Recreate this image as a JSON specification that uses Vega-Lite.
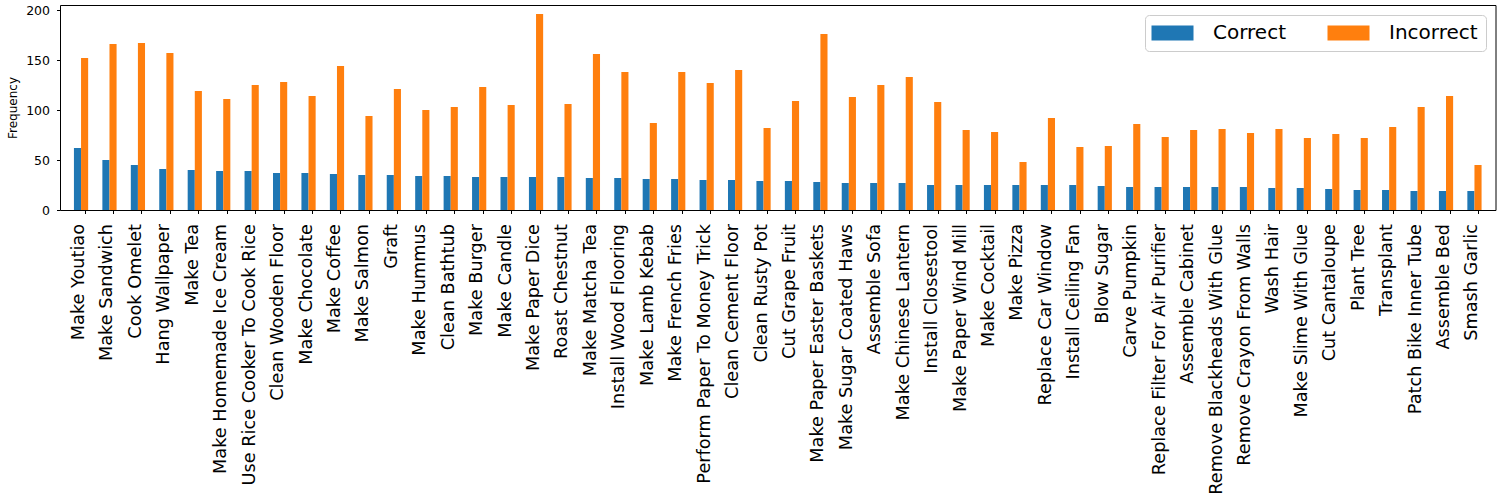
{
  "$schema": "https://vega.github.io/schema/vega-lite/v6.json",
  "width": 1435.5,
  "height": 205,
  "autosize": {"type": "none"},
  "padding": {"left": 60, "top": 5, "right": 4.5, "bottom": 290},
  "background": "white",
  "config": {
    "font": "DejaVu Sans",
    "view": {"stroke": "black", "strokeWidth": 1},
    "axis": {"grid": false, "domainColor": "black", "tickColor": "black", "labelColor": "black", "titleColor": "black", "labelFont": "DejaVu Sans", "titleFont": "DejaVu Sans", "titleFontWeight": "normal"}
  },
  "data": {"values": [
    {"task": "Make Youtiao", "type": "Correct", "value": 62}, {"task": "Make Youtiao", "type": "Incorrect", "value": 152},
    {"task": "Make Sandwich", "type": "Correct", "value": 50}, {"task": "Make Sandwich", "type": "Incorrect", "value": 166},
    {"task": "Cook Omelet", "type": "Correct", "value": 45}, {"task": "Cook Omelet", "type": "Incorrect", "value": 167},
    {"task": "Hang Wallpaper", "type": "Correct", "value": 41}, {"task": "Hang Wallpaper", "type": "Incorrect", "value": 157},
    {"task": "Make Tea", "type": "Correct", "value": 40}, {"task": "Make Tea", "type": "Incorrect", "value": 119},
    {"task": "Make Homemade Ice Cream", "type": "Correct", "value": 39}, {"task": "Make Homemade Ice Cream", "type": "Incorrect", "value": 111},
    {"task": "Use Rice Cooker To Cook Rice", "type": "Correct", "value": 39}, {"task": "Use Rice Cooker To Cook Rice", "type": "Incorrect", "value": 125},
    {"task": "Clean Wooden Floor", "type": "Correct", "value": 37}, {"task": "Clean Wooden Floor", "type": "Incorrect", "value": 128},
    {"task": "Make Chocolate", "type": "Correct", "value": 37}, {"task": "Make Chocolate", "type": "Incorrect", "value": 114},
    {"task": "Make Coffee", "type": "Correct", "value": 36}, {"task": "Make Coffee", "type": "Incorrect", "value": 144},
    {"task": "Make Salmon", "type": "Correct", "value": 35}, {"task": "Make Salmon", "type": "Incorrect", "value": 94},
    {"task": "Graft", "type": "Correct", "value": 35}, {"task": "Graft", "type": "Incorrect", "value": 121},
    {"task": "Make Hummus", "type": "Correct", "value": 34}, {"task": "Make Hummus", "type": "Incorrect", "value": 100},
    {"task": "Clean Bathtub", "type": "Correct", "value": 34}, {"task": "Clean Bathtub", "type": "Incorrect", "value": 103},
    {"task": "Make Burger", "type": "Correct", "value": 33}, {"task": "Make Burger", "type": "Incorrect", "value": 123},
    {"task": "Make Candle", "type": "Correct", "value": 33}, {"task": "Make Candle", "type": "Incorrect", "value": 105},
    {"task": "Make Paper Dice", "type": "Correct", "value": 33}, {"task": "Make Paper Dice", "type": "Incorrect", "value": 196},
    {"task": "Roast Chestnut", "type": "Correct", "value": 33}, {"task": "Roast Chestnut", "type": "Incorrect", "value": 106},
    {"task": "Make Matcha Tea", "type": "Correct", "value": 32}, {"task": "Make Matcha Tea", "type": "Incorrect", "value": 156},
    {"task": "Install Wood Flooring", "type": "Correct", "value": 32}, {"task": "Install Wood Flooring", "type": "Incorrect", "value": 138},
    {"task": "Make Lamb Kebab", "type": "Correct", "value": 31}, {"task": "Make Lamb Kebab", "type": "Incorrect", "value": 87},
    {"task": "Make French Fries", "type": "Correct", "value": 31}, {"task": "Make French Fries", "type": "Incorrect", "value": 138},
    {"task": "Perform Paper To Money Trick", "type": "Correct", "value": 30}, {"task": "Perform Paper To Money Trick", "type": "Incorrect", "value": 127},
    {"task": "Clean Cement Floor", "type": "Correct", "value": 30}, {"task": "Clean Cement Floor", "type": "Incorrect", "value": 140},
    {"task": "Clean Rusty Pot", "type": "Correct", "value": 29}, {"task": "Clean Rusty Pot", "type": "Incorrect", "value": 82},
    {"task": "Cut Grape Fruit", "type": "Correct", "value": 29}, {"task": "Cut Grape Fruit", "type": "Incorrect", "value": 109},
    {"task": "Make Paper Easter Baskets", "type": "Correct", "value": 28}, {"task": "Make Paper Easter Baskets", "type": "Incorrect", "value": 176},
    {"task": "Make Sugar Coated Haws", "type": "Correct", "value": 27}, {"task": "Make Sugar Coated Haws", "type": "Incorrect", "value": 113},
    {"task": "Assemble Sofa", "type": "Correct", "value": 27}, {"task": "Assemble Sofa", "type": "Incorrect", "value": 125},
    {"task": "Make Chinese Lantern", "type": "Correct", "value": 27}, {"task": "Make Chinese Lantern", "type": "Incorrect", "value": 133},
    {"task": "Install Closestool", "type": "Correct", "value": 25}, {"task": "Install Closestool", "type": "Incorrect", "value": 108},
    {"task": "Make Paper Wind Mill", "type": "Correct", "value": 25}, {"task": "Make Paper Wind Mill", "type": "Incorrect", "value": 80},
    {"task": "Make Cocktail", "type": "Correct", "value": 25}, {"task": "Make Cocktail", "type": "Incorrect", "value": 78},
    {"task": "Make Pizza", "type": "Correct", "value": 25}, {"task": "Make Pizza", "type": "Incorrect", "value": 48},
    {"task": "Replace Car Window", "type": "Correct", "value": 25}, {"task": "Replace Car Window", "type": "Incorrect", "value": 92},
    {"task": "Install Ceiling Fan", "type": "Correct", "value": 25}, {"task": "Install Ceiling Fan", "type": "Incorrect", "value": 63},
    {"task": "Blow Sugar", "type": "Correct", "value": 24}, {"task": "Blow Sugar", "type": "Incorrect", "value": 64},
    {"task": "Carve Pumpkin", "type": "Correct", "value": 23}, {"task": "Carve Pumpkin", "type": "Incorrect", "value": 86},
    {"task": "Replace Filter For Air Purifier", "type": "Correct", "value": 23}, {"task": "Replace Filter For Air Purifier", "type": "Incorrect", "value": 73},
    {"task": "Assemble Cabinet", "type": "Correct", "value": 23}, {"task": "Assemble Cabinet", "type": "Incorrect", "value": 80},
    {"task": "Remove Blackheads With Glue", "type": "Correct", "value": 23}, {"task": "Remove Blackheads With Glue", "type": "Incorrect", "value": 81},
    {"task": "Remove Crayon From Walls", "type": "Correct", "value": 23}, {"task": "Remove Crayon From Walls", "type": "Incorrect", "value": 77},
    {"task": "Wash Hair", "type": "Correct", "value": 22}, {"task": "Wash Hair", "type": "Incorrect", "value": 81},
    {"task": "Make Slime With Glue", "type": "Correct", "value": 22}, {"task": "Make Slime With Glue", "type": "Incorrect", "value": 72},
    {"task": "Cut Cantaloupe", "type": "Correct", "value": 21}, {"task": "Cut Cantaloupe", "type": "Incorrect", "value": 76},
    {"task": "Plant Tree", "type": "Correct", "value": 20}, {"task": "Plant Tree", "type": "Incorrect", "value": 72},
    {"task": "Transplant", "type": "Correct", "value": 20}, {"task": "Transplant", "type": "Incorrect", "value": 83},
    {"task": "Patch Bike Inner Tube", "type": "Correct", "value": 19}, {"task": "Patch Bike Inner Tube", "type": "Incorrect", "value": 103},
    {"task": "Assemble Bed", "type": "Correct", "value": 19}, {"task": "Assemble Bed", "type": "Incorrect", "value": 114},
    {"task": "Smash Garlic", "type": "Correct", "value": 19}, {"task": "Smash Garlic", "type": "Incorrect", "value": 45}
  ]},
  "mark": {"type": "bar"},
  "encoding": {
    "x": {
      "field": "task", "type": "nominal", "sort": null,
      "scale": {"paddingInner": 0.5, "paddingOuter": 0.49},
      "axis": {"title": null, "labelAngle": -90, "labelFontSize": 17.7, "labelPadding": 10, "tickSize": 3.5, "bandPosition": 0.78, "labelOffset": -2, "domain": false, "labelOverlap": false, "labelLimit": 400}
    },
    "xOffset": {"field": "type", "type": "nominal", "scale": {"paddingInner": 0, "paddingOuter": 0}},
    "y": {
      "field": "value", "type": "quantitative",
      "scale": {"domain": [0, 205], "nice": false, "zero": true},
      "axis": {"title": "Frequency", "values": [0, 50, 100, 150, 200], "labelFontSize": 12.5, "titleFontSize": 12, "tickSize": 3.5, "labelPadding": 7, "titlePadding": 6, "domain": false}
    },
    "color": {
      "field": "type", "type": "nominal",
      "scale": {"domain": ["Correct", "Incorrect"], "range": ["#1f77b4", "#ff7f0e"]},
      "legend": {
        "title": null, "orient": "top-right", "offset": 10, "direction": "horizontal", "columns": 2,
        "fillColor": "white", "strokeColor": "#cccccc", "cornerRadius": 4, "padding": 8,
        "symbolType": "M-2.8,-1L2.8,-1L2.8,1L-2.8,1Z", "symbolSize": 225, "symbolStrokeWidth": 0, "symbolOpacity": 1, "symbolOffset": 9.5,
        "labelFontSize": 20, "labelFont": "DejaVu Sans", "labelColor": "black", "labelOffset": 30.5, "columnPadding": 41
      }
    }
  }
}
